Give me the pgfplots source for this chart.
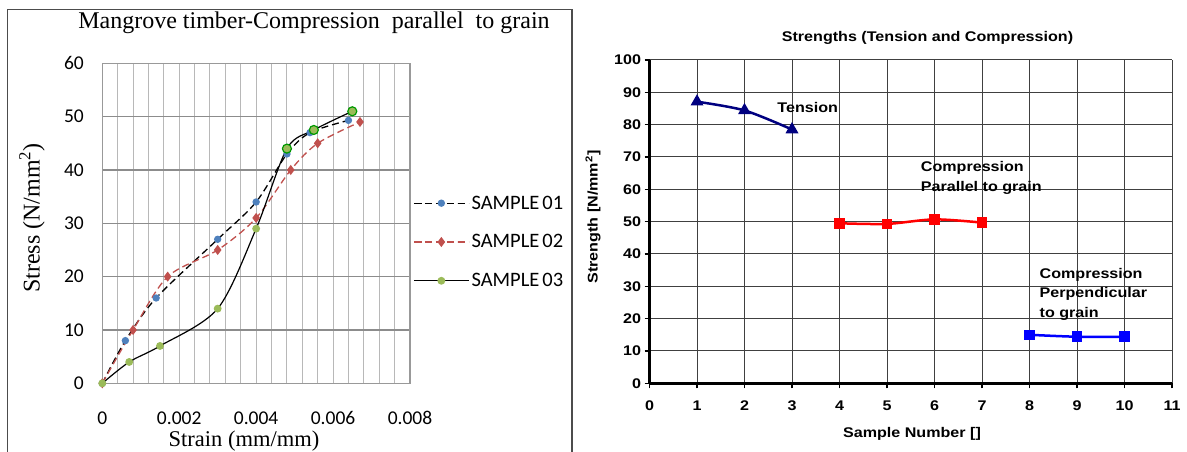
\documentclass[border=0pt]{standalone}
\usepackage{fontspec}
\usepackage{pgfplots}
\pgfplotsset{compat=1.18}
\setmainfont{Liberation Serif}
\newfontfamily\carlito{Carlito}
\newfontfamily\arialx[FakeStretch=1.15]{Liberation Sans}
\definecolor{sblue}{HTML}{4F81BD}
\definecolor{sred}{HTML}{C0504D}
\definecolor{sgreen}{HTML}{9BBB59}
\definecolor{navy}{HTML}{000080}

\begin{document}
\begin{tikzpicture}[x=1pt,y=1pt]
\useasboundingbox (0,0) rectangle (1187,452);
% frame of the left chart
\draw[line width=1.5pt, black!70] (7.5,0) -- (7.5,442.5) -- (572,442.5) -- (572,0);

% ---------- left: stress-strain ----------
\begin{axis}[
  at={(102.3pt,68.7pt)}, anchor=south west,
  scale only axis, width=307.7pt, height=320pt,
  xmin=0, xmax=0.008, ymin=0, ymax=60,
  scaled x ticks=false,
  xtick={0,0.002,0.004,0.006,0.008},
  xticklabels={0,0.002,0.004,0.006,0.008},
  ytick={0,10,...,60},
  minor xtick={0.0004,0.0008,0.0012,0.0016,0.002,0.0024,0.0028,0.0032,0.0036,0.004,0.0044,0.0048,0.0052,0.0056,0.006,0.0064,0.0068,0.0072,0.0076},
  ymajorgrids, xminorgrids,
  major grid style={black!45, line width=1.3pt},
  minor grid style={black!28, line width=1pt},
  axis line style={black!40, line width=1.2pt},
  major tick length=0pt, minor tick length=0pt,
  tick label style={font=\carlito\fontsize{19.5}{19.5}\selectfont, text=black},
  /pgf/number format/assume math mode=true,
  yticklabel style={xshift=-15pt},
  xticklabel style={anchor=center, yshift=-34.5pt},
  legend cell align=left,
  legend image code/.code={\draw[mark repeat=2,mark phase=2,#1] plot coordinates {(0pt,0pt) (27.5pt,0pt) (55pt,0pt)};},
  legend style={at={(1.0098,0.4416)}, anchor=west, draw=none, fill=none,
    inner sep=0pt, row sep=20pt,
    font=\carlito\fontsize{20.5}{20.5}\selectfont,
    nodes={inner sep=2pt, text=black}},
]
\addplot[black, line width=1.3pt, dash pattern=on 7pt off 4pt, smooth,
  mark=*, mark size=3pt, mark options={solid, draw=sblue, fill=sblue}] coordinates {
  (0,0) (0.0006,8) (0.0014,16) (0.003,27) (0.004,34) (0.0048,43) (0.0054,47) (0.0064,49.3)
};
\addlegendentry{SAMPLE\hspace{3pt}01}
\addplot[sred, line width=1.3pt, dash pattern=on 7pt off 4pt, smooth,
  mark=diamond*, mark size=4pt, mark options={solid, draw=sred, fill=sred}] coordinates {
  (0,0) (0.0008,10) (0.0017,20) (0.003,25) (0.004,31) (0.0049,40) (0.0056,45) (0.0067,49)
};
\addlegendentry{SAMPLE\hspace{3pt}02}
\addplot[black, line width=1.2pt, smooth,
  mark=*, mark size=3.3pt, mark options={draw=sgreen, fill=sgreen}] coordinates {
  (0,0) (0.0007,4) (0.0015,7) (0.003,14) (0.004,29) (0.0048,44) (0.0055,47.5) (0.0065,51)
};
\addlegendentry{SAMPLE\hspace{3pt}03}
\addplot[forget plot, only marks, mark=*, mark size=4.5pt,
  mark options={draw=green!60!black, fill=sgreen, line width=1.2pt}] coordinates {
  (0.0048,44) (0.0055,47.5) (0.0065,51)
};
\end{axis}

\node[anchor=base, font=\fontsize{24}{24}\selectfont] at (314,423.5)
  {Mangrove timber-Compression\ \ parallel\ \ to grain};
\node[rotate=90, font=\fontsize{24}{24}\selectfont] at (32,234) {Stress (N/mm\textsuperscript{2})};
\node[font=\fontsize{22.5}{22.5}\selectfont] at (244,11) {Strain (mm/mm)};

% ---------- right: strengths ----------
\begin{axis}[
  at={(649.5pt,68.7pt)}, anchor=south west,
  scale only axis, width=522.5pt, height=323.3pt,
  xmin=0, xmax=11, ymin=0, ymax=100,
  xtick={0,1,...,11}, ytick={0,10,...,100},
  grid=major,
  major grid style={black!75, line width=1pt},
  axis lines*=left,
  axis line style={black, line width=2.5pt},
  tick align=outside, major tick length=5pt,
  tick style={black, line width=1.5pt},
  tick label style={font=\arialx\bfseries\fontsize{14}{14}\selectfont},
  /pgf/number format/assume math mode=true,
  xticklabel style={yshift=-9pt},
  clip=false,
]
\addplot[navy, line width=2.5pt, smooth, mark=triangle*, mark size=5pt,
  mark options={fill=navy}] coordinates {(1,87.1) (2,84.4) (3,78.5)};
\addplot[red, line width=2.5pt, smooth, mark=square*, mark size=4pt,
  mark options={fill=red}] coordinates {(4,49.5) (5,49.3) (6,50.7) (7,49.7)};
\addplot[blue, line width=2.5pt, smooth, mark=square*, mark size=4pt,
  mark options={fill=blue}] coordinates {(8,15) (9,14.4) (10,14.4)};
\node[anchor=west, font=\arialx\bfseries\fontsize{14}{19.5}\selectfont] at (axis cs:2.62,85.4) {Tension};
\node[anchor=west, align=left, font=\arialx\bfseries\fontsize{14}{20.5}\selectfont] at (axis cs:5.64,63.5) {Compression\\Parallel to grain};
\node[anchor=west, align=left, font=\arialx\bfseries\fontsize{14}{19.2}\selectfont] at (axis cs:8.14,27.5) {Compression\\Perpendicular\\to grain};
\end{axis}

\node[font=\arialx\bfseries\fontsize{14}{14}\selectfont] at (927.5,414.5) {Strengths (Tension and Compression)};
\node[rotate=90, font=\arialx\bfseries\fontsize{14}{14}\selectfont] at (593,235) {Strength [N/mm\textsuperscript{2}]};
\node[font=\arialx\bfseries\fontsize{14}{14}\selectfont] at (912,18) {Sample Number []};
\end{tikzpicture}
\end{document}
